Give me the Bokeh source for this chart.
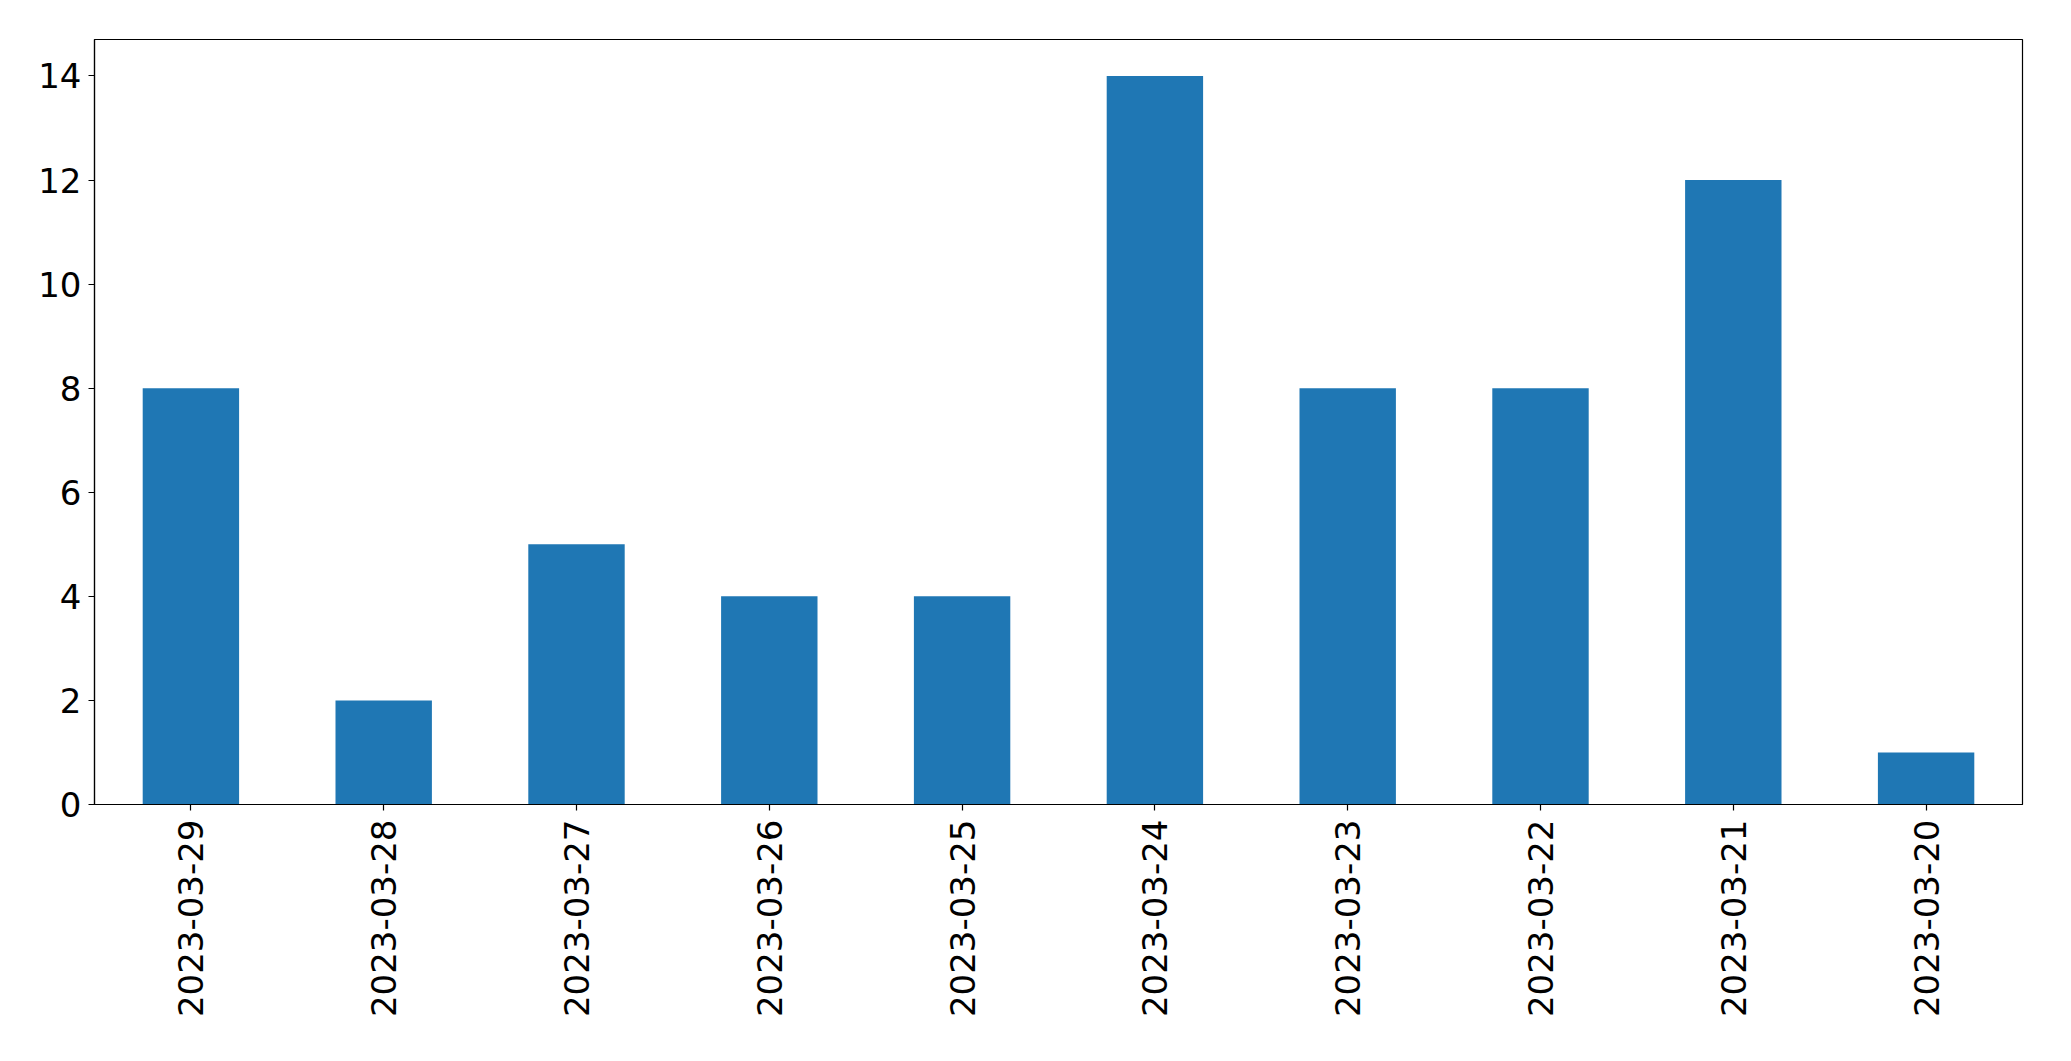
import math
from bokeh.plotting import figure
from bokeh.models import FactorRange, Range1d, FixedTicker, ColumnDataSource
from bokeh.embed import file_html
from bokeh.resources import INLINE

dates = ["2023-03-29", "2023-03-28", "2023-03-27", "2023-03-26", "2023-03-25",
         "2023-03-24", "2023-03-23", "2023-03-22", "2023-03-21", "2023-03-20"]
counts = [8, 2, 5, 4, 4, 14, 8, 8, 12, 1]
y_ticks = [0, 2, 4, 6, 8, 10, 12, 14]

src = ColumnDataSource(dict(date=dates, count=counts))

p = figure(width=2055, height=1045, output_backend="svg", toolbar_location=None,
           x_range=FactorRange(*dates, range_padding=0), y_range=Range1d(0, 14.7),
           min_border_left=94, min_border_right=33, min_border_top=39, min_border_bottom=241)

p.vbar(x="date", top="count", width=0.5, source=src, color="#1f77b4", line_color=None)

p.grid.visible = False
p.outline_line_color = "black"
p.outline_line_width = 1.2
p.background_fill_color = "white"
p.border_fill_color = "white"

for ax in (p.xaxis, p.yaxis):
    ax.axis_line_color = "black"
    ax.axis_line_width = 1.2
    ax.major_tick_line_color = "black"
    ax.major_tick_line_width = 1.2
    ax.major_tick_in = 0
    ax.major_tick_out = 6
    ax.minor_tick_line_color = None
    ax.major_label_text_font = "DejaVu Sans"
    ax.major_label_text_font_size = "34px"
    ax.major_label_text_color = "black"

p.yaxis.ticker = FixedTicker(ticks=y_ticks)
p.yaxis.major_label_standoff = 7
p.xaxis.major_label_orientation = math.pi / 2
p.xaxis.major_label_standoff = 9

open("out.html", "w").write(file_html(p, INLINE))
